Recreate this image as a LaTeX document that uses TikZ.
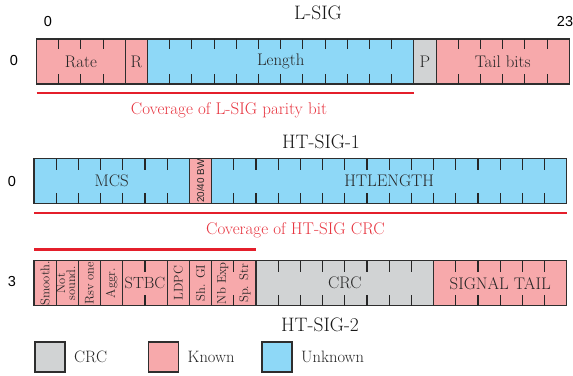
\documentclass[tikz,border=0pt]{standalone}
\usepackage{fontspec}
\usepackage{tikz}
\usetikzlibrary{positioning}
\newfontfamily\numfont{Liberation Sans}

\definecolor{knownpink}{HTML}{F7A9AB}
\definecolor{unknownblue}{HTML}{8ED8F7}
\definecolor{crcgray}{HTML}{D1D3D4}
\definecolor{covred}{HTML}{E41F2B}
\definecolor{edgegray}{HTML}{2E2E2E}

\begin{document}
\begin{tikzpicture}[x=1pt, y=-1pt,
  field/.style={rectangle, draw=edgegray, line width=1.1pt, inner sep=0pt, outer sep=0pt, minimum height=45pt, text=black!85, font=\fontsize{16.8}{17}\selectfont},
  kn/.style={field, fill=knownpink},
  unk/.style={field, fill=unknownblue},
  crcf/.style={field, fill=crcgray},
  bits/.style={minimum width=#1*22.2pt},
  vfield/.style={kn, bits=1, font=\fontsize{12.6}{10}\selectfont},
  bittick/.style={line width=1.1pt, black!85},
  covline/.style={covred, line width=2.6pt},
  covtext/.style={text=covred!90, font=\fontsize{17}{17}\selectfont},
  sigtitle/.style={font=\fontsize{19.5}{19.5}\selectfont, text=black!90},
  rownum/.style={font=\numfont\fontsize{14.5}{15}\selectfont},
  keytext/.style={inner sep=0pt, text=black!85, font=\fontsize{16.5}{17}\selectfont}]
\useasboundingbox (0,0) rectangle (573,375);

% L-SIG
\node[sigtitle] (lsigt) at (318,13) {L-SIG};
\node[rownum] (b0) at (48,21.5) {0};
\node[rownum] (b23) at (565,21.5) {23};
\node[rownum] (row1) at (14,60.5) {0};
\node[kn, bits=4, anchor=west] (rate) at (36.5,61.5) {Rate};
\node[kn, bits=1, right=0pt of rate] (rsv) {R};
\node[unk, bits=12, right=0pt of rsv] (length) {Length};
\node[crcf, bits=1, right=0pt of length] (par) {P};
\node[kn, bits=6, right=0pt of par] (tail) {Tail bits};
\foreach \k in {1,2,3,6,7,...,16,19,20,...,23}
  \draw[bittick] ([xshift=\k*22.2pt]rate.north west) -- ++(0,10) ([xshift=\k*22.2pt]rate.south west) -- ++(0,-10);
\draw[covline] ([yshift=-9pt]rate.south west) -- ([yshift=-9pt]length.south east);
\node[covtext] (lcov) at (229,110) {Coverage of L-SIG parity bit};

% HT-SIG-1
\node[sigtitle] (ht1t) at (321,142) {HT-SIG-1};
\node[rownum] (row2) at (12,181.5) {0};
\node[unk, bits=7, anchor=west] (mcs) at (34,181.2) {MCS};
\node[kn, bits=1, right=0pt of mcs] (bw) {\rotatebox{90}{\numfont\fontsize{9.9}{10}\selectfont 20/40 BW}};
\node[unk, bits=16, right=0pt of bw] (htlen) {HTLENGTH};
\foreach \k in {1,2,...,6,9,10,...,23}
  \draw[bittick] ([xshift=\k*22.2pt]mcs.north west) -- ++(0,11) ([xshift=\k*22.2pt]mcs.south west) -- ++(0,-11);
\draw[covline] ([yshift=-9.3pt]mcs.south west) -- ([yshift=-9.3pt]htlen.south east);
\node[covtext] (hcov) at (295.5,230) {Coverage of HT-SIG CRC};

% HT-SIG-2
\node[rownum] (row3) at (12,282) {3};
\node[vfield, anchor=west] (smooth) at (34,283.2) {\rotatebox{90}{Smooth.}};
\node[vfield, right=0pt of smooth] (notsnd) {\rotatebox{90}{\fontsize{12.4}{9.5}\selectfont\begin{tabular}{@{}c@{}}Not\\[-1.5pt]sound.\end{tabular}}};
\node[vfield, right=0pt of notsnd] (rsvone) {\rotatebox{90}{Rsv one}};
\node[vfield, right=0pt of rsvone] (aggr) {\rotatebox{90}{Aggr.}};
\node[kn, bits=2, right=0pt of aggr, font=\fontsize{16.2}{17}\selectfont] (stbc) {STBC};
\node[vfield, right=0pt of stbc] (ldpc) {\rotatebox{90}{LDPC}};
\node[vfield, right=0pt of ldpc] (shgi) {\rotatebox{90}{Sh. GI}};
\node[vfield, bits=2, right=0pt of shgi] (nss) {};
\node[font=\fontsize{12.6}{10}\selectfont, inner sep=0pt, text=black!85] (nbexp) at ([xshift=-11.1pt]nss.center) {\rotatebox{90}{Nb Exp}};
\node[font=\fontsize{12.6}{10}\selectfont, inner sep=0pt, text=black!85] (spstr) at ([xshift=11.1pt]nss.center) {\rotatebox{90}{Sp. Str}};
\node[crcf, bits=8, right=0pt of nss] (crc) {CRC};
\node[kn, bits=6, right=0pt of crc] (sigtail) {SIGNAL TAIL};
\foreach \k in {5,9,11,12,...,17,19,20,...,23}
  \draw[bittick] ([xshift=\k*22.2pt]smooth.north west) -- ++(0,11) ([xshift=\k*22.2pt]smooth.south west) -- ++(0,-11);
\draw[covline] ([yshift=11pt]smooth.north west) -- ([yshift=11pt]nss.north east);
\node[sigtitle] (ht2t) at (320,325) {HT-SIG-2};

% legend
\node[crcf, minimum width=30pt, minimum height=30pt] (keycrc) at (50,357) {};
\node[keytext, right=9pt of keycrc] (keycrct) {CRC};
\node[kn, minimum width=30pt, minimum height=30pt] (keyknown) at (163.5,357) {};
\node[keytext, right=9pt of keyknown] (keyknownt) {Known};
\node[unk, minimum width=30pt, minimum height=30pt] (keyunk) at (277,357) {};
\node[keytext, right=9pt of keyunk] (keyunkt) {Unknown};
\end{tikzpicture}
\end{document}
